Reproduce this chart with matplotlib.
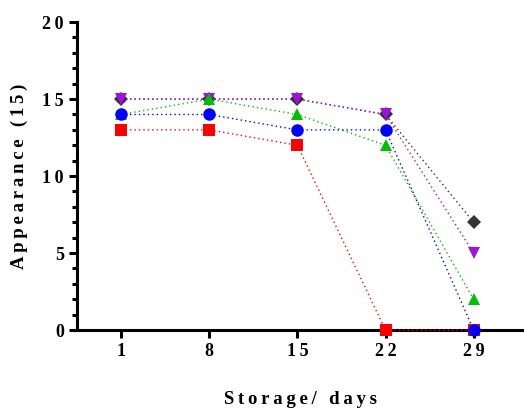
import matplotlib
matplotlib.use("Agg")
import matplotlib.pyplot as plt
from matplotlib.ticker import MultipleLocator, FixedLocator

days = [1, 8, 15, 22, 29]
s_black = [15, 15, 15, 14, 7]
s_purple = [15, 15, 15, 14, 5]
s_green = [14, 15, 14, 12, 2]
s_blue = [14, 14, 13, 13, 0]
s_red = [13, 13, 12, 0, 0]

xlabel = "Storage/ days"
ylabel = "Appearance (15)"
yticks = [0, 5, 10, 15, 20]

FAM = ['Liberation Serif', 'DejaVu Serif']
SP = '\u2009'

def spaced(s):
    return SP.join(list(s))

fig = plt.figure(figsize=(5.24, 4.09), dpi=100)
ax = fig.add_axes([0.147, 0.193, 0.853, 0.753])

series = [
    (s_black, '#333333', 'D', 7),
    (s_purple, '#A010E0', 'v', 9),
    (s_green, '#00C000', '^', 9),
    (s_blue, '#0000FF', 'o', 9),
    (s_red, '#FF0000', 's', 8.5),
]
for i, (vals, c, m, ms) in enumerate(series):
    ax.plot(days, vals, linestyle=(0, (1, 2.2)), linewidth=1.0, color=c,
            marker=m, markersize=ms, markeredgewidth=0, clip_on=False,
            zorder=3 + (1 if c == '#0000FF' else 0))

ax.set_xlim(-2.5, 33)
ax.set_ylim(0, 20)
for side in ['top', 'right']:
    ax.spines[side].set_visible(False)
for side in ['left', 'bottom']:
    ax.spines[side].set_linewidth(2.2)
ax.xaxis.set_major_locator(FixedLocator(days))
ax.yaxis.set_major_locator(FixedLocator(yticks))
ax.yaxis.set_minor_locator(MultipleLocator(1))
ax.tick_params(axis='both', which='major', width=2.2, length=6)
ax.tick_params(axis='y', which='minor', width=2.2, length=3.5)
ax.set_xticklabels([spaced(str(d)) for d in days], family=FAM, fontweight='bold', fontsize=13)
ax.set_yticklabels([spaced(str(v)) for v in yticks], family=FAM, fontweight='bold', fontsize=13)
ax.set_xlabel(spaced(xlabel), family=FAM, fontweight='bold', fontsize=13.5, labelpad=22)
ax.set_ylabel(spaced(ylabel), family=FAM, fontweight='bold', fontsize=13.5, labelpad=10)

fig.savefig('out.png', dpi=100)
